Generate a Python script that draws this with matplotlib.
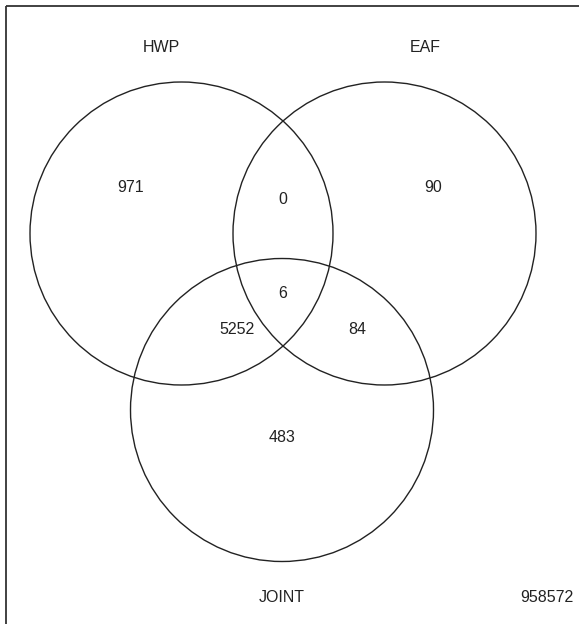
import matplotlib
matplotlib.use("Agg")
import matplotlib.pyplot as plt
from matplotlib.patches import Circle, Rectangle

plt.rcParams['font.family'] = ['Liberation Sans', 'DejaVu Sans']

set_names = ["HWP", "EAF", "JOINT"]
region_labels = ["HWP only", "HWP&EAF", "EAF only", "all", "HWP&JOINT", "EAF&JOINT", "JOINT only"]
region_counts = [971, 0, 90, 6, 5252, 84, 483]
outside_count = 958572

W, H = 579, 624
fig = plt.figure(figsize=(W / 100, H / 100), dpi=100)
ax = fig.add_axes([0, 0, 1, 1])
ax.set_xlim(0, W)
ax.set_ylim(H, 0)
ax.set_aspect('equal')
ax.axis('off')

line_col = '#222222'
# outer frame (right/bottom lie outside the image)
ax.add_patch(Rectangle((5.5, 5.5), W + 20, H + 20, fill=False, lw=1.3, ec='#333333'))

centers = [(181.5, 233.5), (384.5, 233.5), (282.0, 410.0)]
radius = 151.5
for c in centers:
    ax.add_patch(Circle(c, radius, fill=False, lw=1.0, ec=line_col))

name_pos = [(161, 47), (425, 47), (282, 597)]
for name, p in zip(set_names, name_pos):
    ax.text(p[0], p[1], name, ha='center', va='center', fontsize=11.5, color='#222222')

region_pos = [(131, 188), (283, 200), (433, 188), (283, 293), (237, 330), (357, 330), (282, 437)]
for cnt, p in zip(region_counts, region_pos):
    ax.text(p[0], p[1], str(cnt), ha='center', va='center', fontsize=11.5, color='#222222')

ax.text(547, 597, str(outside_count), ha='center', va='center', fontsize=11.5, color='#222222')

fig.savefig('out.png', dpi=100)
